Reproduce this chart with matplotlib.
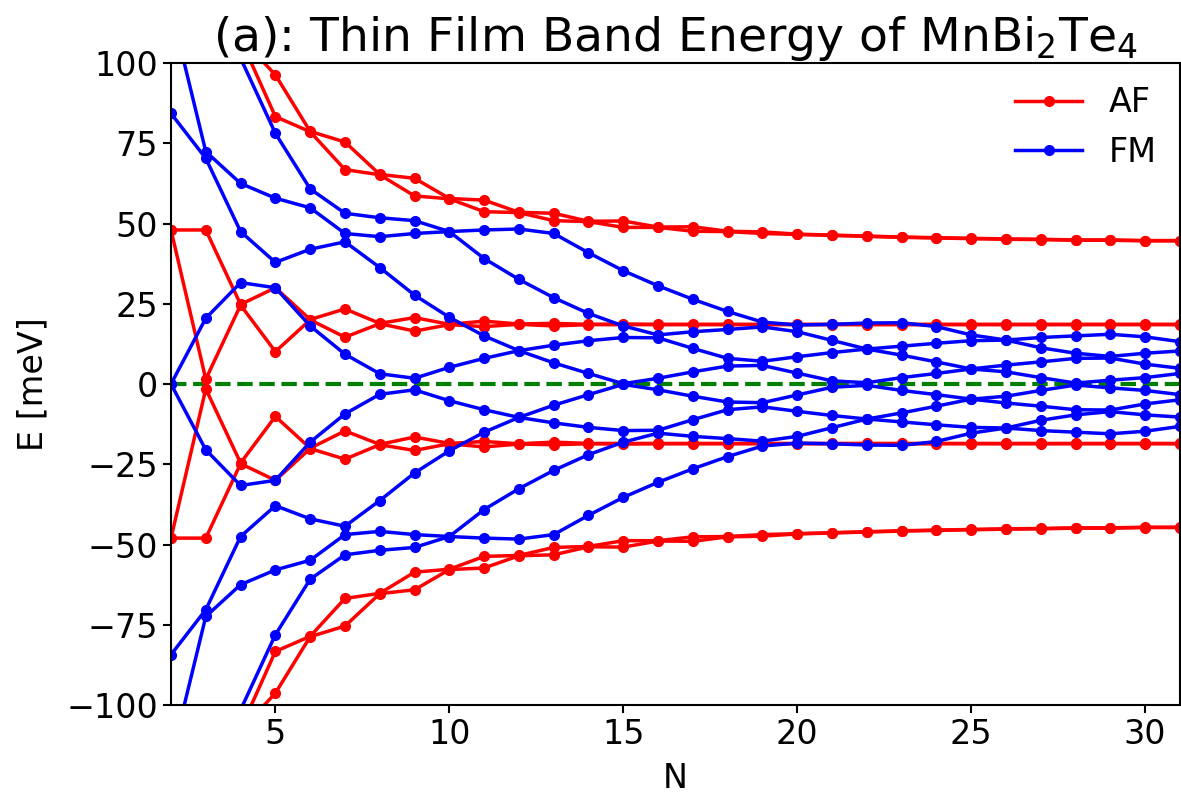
import numpy as np
import matplotlib
matplotlib.use('Agg')
import matplotlib.pyplot as plt

# layer number
N = list(range(2, 32))

# AF bands (positive half, sorted), the negative half is the mirror image
af_outer_hi = [200, 140, 108, 96.3, 78.7, 75.4, 65.3, 64.1, 57.8, 57.3, 53.5, 53.2, 50.7, 50.8, 48.9,
               49.0, 47.6, 47.4, 46.7, 46.4, 46.1, 45.8, 45.6, 45.4, 45.2, 45.1, 44.9, 44.9, 44.7, 44.7]
af_outer_lo = [198, 138, 107.5, 83.3, 78.6, 66.8, 65.2, 58.6, 57.7, 53.7, 53.4, 50.9, 50.6, 48.8, 48.8,
               47.6, 47.5, 46.9, 46.6, 46.3, 46.0, 45.7, 45.5, 45.3, 45.1, 45.0, 44.8, 44.8, 44.6, 44.6]
af_inner_hi = [48.0, 48.0, 24.8, 30.0, 20.1, 23.4, 18.9, 20.7, 18.6, 19.6, 18.7, 18.9, 18.6, 18.7, 18.6,
               18.6, 18.6, 18.6, 18.6, 18.6, 18.6, 18.6, 18.6, 18.6, 18.6, 18.6, 18.6, 18.6, 18.6, 18.6]
af_inner_lo = [48.0, 1.5, 24.6, 10.1, 20.0, 14.6, 18.8, 16.5, 18.5, 17.9, 18.6, 18.1, 18.5, 18.5, 18.5,
               18.5, 18.5, 18.5, 18.5, 18.5, 18.5, 18.5, 18.5, 18.5, 18.5, 18.5, 18.5, 18.5, 18.5, 18.5]

# FM bands (positive half, sorted)
fm_1 = [180, 140, 101.5, 78.1, 60.8, 53.2, 51.8, 50.9, 47.5, 48.0, 48.3, 46.9, 40.9, 35.3, 30.6,
        26.4, 22.6, 19.3, 18.4, 18.6, 19.0, 19.1, 17.9, 15.3, 13.7, 14.5, 15.0, 15.5, 14.7, 13.2]
fm_2 = [117, 72.4, 62.5, 57.9, 54.9, 46.9, 45.9, 46.9, 47.5, 39.1, 32.6, 26.9, 22.0, 18.1, 15.3,
        16.3, 17.0, 17.8, 16.3, 13.6, 10.9, 11.8, 12.7, 13.5, 13.7, 11.3, 9.6, 8.6, 9.6, 10.3]
fm_3 = [84.3, 70.3, 47.5, 37.9, 42.0, 44.3, 36.3, 27.7, 20.8, 15.0, 10.4, 12.1, 13.5, 14.5, 14.4,
        11.1, 8.0, 7.1, 8.5, 9.8, 10.9, 9.0, 6.9, 4.7, 5.9, 6.9, 8.0, 8.1, 6.2, 4.9]
fm_4 = [0.0, 20.5, 31.6, 30.0, 18.1, 9.3, 3.2, 1.8, 5.2, 8.0, 10.4, 6.6, 3.3, 0.1, 1.8,
        3.8, 5.6, 5.8, 3.4, 1.0, 0.4, 2.0, 3.3, 4.7, 3.8, 2.0, 0.3, 1.2, 2.0, 3.3]

af_bands = [af_outer_hi, af_outer_lo, af_inner_hi, af_inner_lo]
fm_bands = [fm_1, fm_2, fm_3, fm_4]

fig = plt.figure(figsize=(11.81, 7.99), dpi=100)
ax = fig.add_axes([0.1448, 0.1176, 0.8543, 0.8035])

ax.axhline(0, color='g', ls='--', lw=3, zorder=1)

lw = 2.5
ms = 7
for i, b in enumerate(af_bands):
    b = np.array(b)
    ax.plot(N, b, 'r-o', lw=lw, ms=ms, label='AF' if i == 0 else None)
    ax.plot(N, -b, 'r-o', lw=lw, ms=ms)
for i, b in enumerate(fm_bands):
    b = np.array(b)
    ax.plot(N, b, 'b-o', lw=lw, ms=ms, label='FM' if i == 0 else None)
    ax.plot(N, -b, 'b-o', lw=lw, ms=ms)

ax.set_xlim(2, 31)
ax.set_ylim(-100, 100)
ax.set_xticks([5, 10, 15, 20, 25, 30])
ax.set_yticks([-100, -75, -50, -25, 0, 25, 50, 75, 100])
ax.tick_params(labelsize=24, width=1.5, length=6)
for s in ax.spines.values():
    s.set_linewidth(1.5)
ax.set_xlabel('N', fontsize=24, labelpad=8)
ax.set_ylabel('E [meV]', fontsize=24, labelpad=12)
ax.set_title('(a): Thin Film Band Energy of MnBi$_2$Te$_4$', fontsize=34)
ax.legend(loc='upper right', fontsize=24, frameon=False, borderaxespad=0.3)

plt.savefig('out.png', dpi=100)
